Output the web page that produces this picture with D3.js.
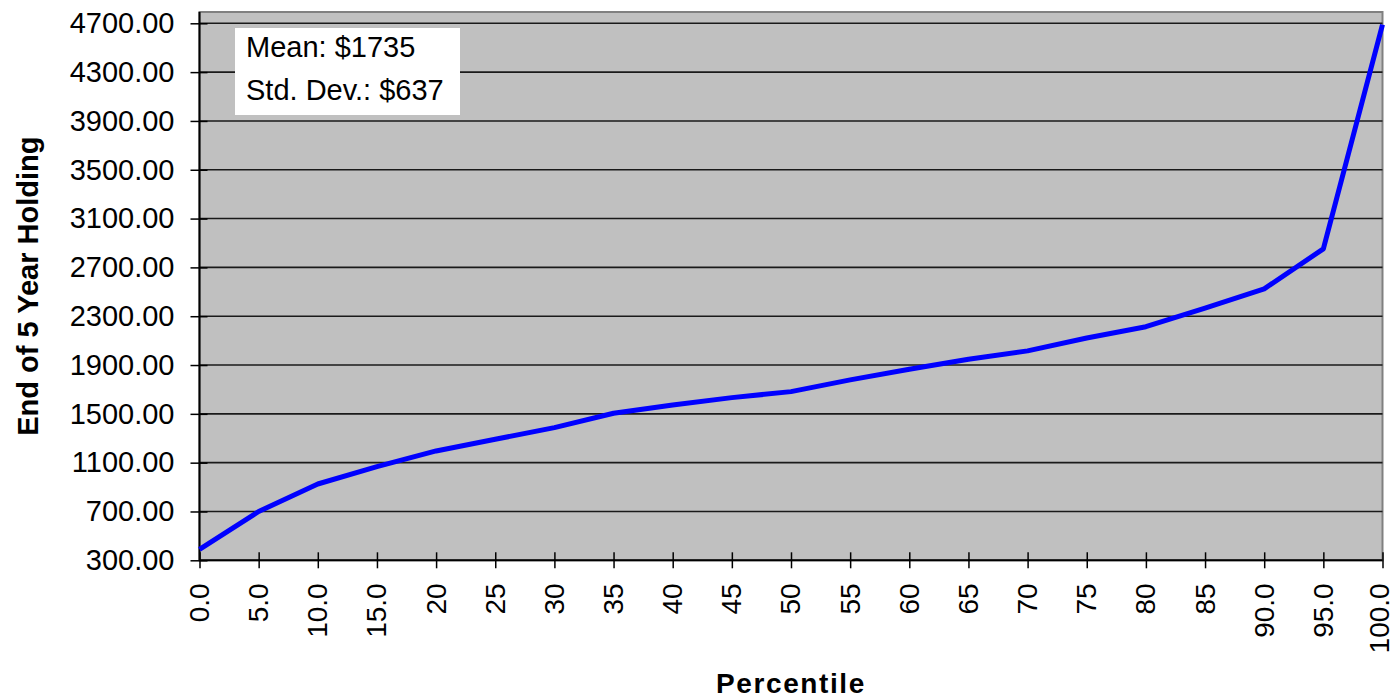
<!DOCTYPE html>
<html>
<head>
<meta charset="utf-8">
<script src="https://cdn.jsdelivr.net/npm/d3@7"></script>
<style>
  html, body { margin: 0; padding: 0; background: #ffffff; }
  svg { display: block; }
  text { font-family: "Liberation Sans", Arial, sans-serif; fill: #000; }
</style>
</head>
<body>
<svg id="chart" width="1394" height="700"></svg>
<script>
// Percentile categories along the x axis
const percentiles = [0, 5, 10, 15, 20, 25, 30, 35, 40, 45, 50, 55, 60, 65, 70, 75, 80, 85, 90, 95, 100];
const percentileLabels = ["0.0", "5.0", "10.0", "15.0", "20", "25", "30", "35", "40", "45", "50",
                          "55", "60", "65", "70", "75", "80", "85", "90.0", "95.0", "100.0"];
// End-of-holding value at each percentile
const holdingValues = [390, 700, 925, 1067, 1196, 1292, 1387, 1505, 1573, 1633, 1682,
                       1778, 1866, 1948, 2016, 2122, 2214, 2367, 2524, 2852, 4690];
// Value axis ticks
const yTickValues = [300, 700, 1100, 1500, 1900, 2300, 2700, 3100, 3500, 3900, 4300, 4700];
// Summary statistics box
const statLines = ["Mean: $1735", "Std. Dev.: $637"];

const svg = d3.select("#chart");
const plot = { left: 199.5, right: 1382.5, top: 12, bottom: 560.3 };

const x = d3.scalePoint()
  .domain(percentiles)
  .range([plot.left, plot.right])
  .padding(0);

const y = d3.scaleLinear()
  .domain([300, 4700])
  .range([plot.bottom, 23.3]);

// plot background
svg.append("rect")
  .attr("x", plot.left).attr("y", plot.top)
  .attr("width", plot.right - plot.left)
  .attr("height", plot.bottom - plot.top)
  .attr("fill", "#c0c0c0")
  .attr("stroke", "#808080")
  .attr("stroke-width", 2);

// horizontal gridlines
svg.append("g")
  .selectAll("line")
  .data(yTickValues.slice(1))
  .join("line")
  .attr("x1", plot.left).attr("x2", plot.right)
  .attr("y1", d => y(d)).attr("y2", d => y(d))
  .attr("stroke", "#1a1a1a")
  .attr("stroke-width", 1.6);

// y axis
const yAxis = svg.append("g")
  .attr("transform", `translate(${plot.left},0)`)
  .call(d3.axisLeft(y).tickValues(yTickValues).tickFormat(d3.format(".2f")).tickSize(9).tickPadding(16));
yAxis.select(".domain").attr("stroke", "#000").attr("stroke-width", 2)
  .attr("d", `M0,${plot.top}V${plot.bottom}`);
yAxis.selectAll(".tick line").attr("x1", 8).attr("stroke", "#000").attr("stroke-width", 1.5);
yAxis.selectAll(".tick text")
  .attr("font-size", 29)
  .attr("font-family", "'Liberation Sans', Arial, sans-serif")
  .attr("fill", "#000");

// x axis
const xAxis = svg.append("g")
  .attr("transform", `translate(0,${plot.bottom})`)
  .call(d3.axisBottom(x).tickFormat((d, i) => percentileLabels[i]).tickSize(8));
xAxis.select(".domain").attr("stroke", "#000").attr("stroke-width", 2)
  .attr("d", `M${plot.left},0H${plot.right}`);
xAxis.selectAll(".tick line").attr("y1", -8).attr("stroke", "#000").attr("stroke-width", 1.5);
xAxis.selectAll(".tick text")
  .attr("font-size", 28)
  .attr("font-family", "'Liberation Sans', Arial, sans-serif")
  .attr("fill", "#000")
  .attr("transform", "rotate(-90)")
  .attr("text-anchor", "end")
  .attr("x", -23)
  .attr("y", 0)
  .attr("dy", (d, i) => i === percentiles.length - 1 ? "0.2em" : "0.32em");

// data line
const line = d3.line()
  .x((d, i) => x(percentiles[i]))
  .y(d => y(d));

svg.append("path")
  .datum(holdingValues)
  .attr("d", line)
  .attr("fill", "none")
  .attr("stroke", "#0000ff")
  .attr("stroke-width", 5)
  .attr("stroke-linejoin", "round");

// statistics box
svg.append("rect")
  .attr("x", 235).attr("y", 28)
  .attr("width", 225).attr("height", 87)
  .attr("fill", "#ffffff");
svg.append("g")
  .selectAll("text")
  .data(statLines)
  .join("text")
  .attr("x", 246)
  .attr("y", (d, i) => 57 + i * 43)
  .attr("font-size", 29)
  .text(d => d);

// axis titles
svg.append("text")
  .attr("x", (plot.left + plot.right) / 2)
  .attr("y", 693)
  .attr("text-anchor", "middle")
  .attr("font-size", 28)
  .attr("font-weight", "bold")
  .attr("letter-spacing", 1.6)
  .text("Percentile");

svg.append("text")
  .attr("transform", `translate(38,${(plot.top + plot.bottom) / 2}) rotate(-90)`)
  .attr("text-anchor", "middle")
  .attr("font-size", 29)
  .attr("font-weight", "bold")
  .text("End of 5 Year Holding");
</script>
</body>
</html>
